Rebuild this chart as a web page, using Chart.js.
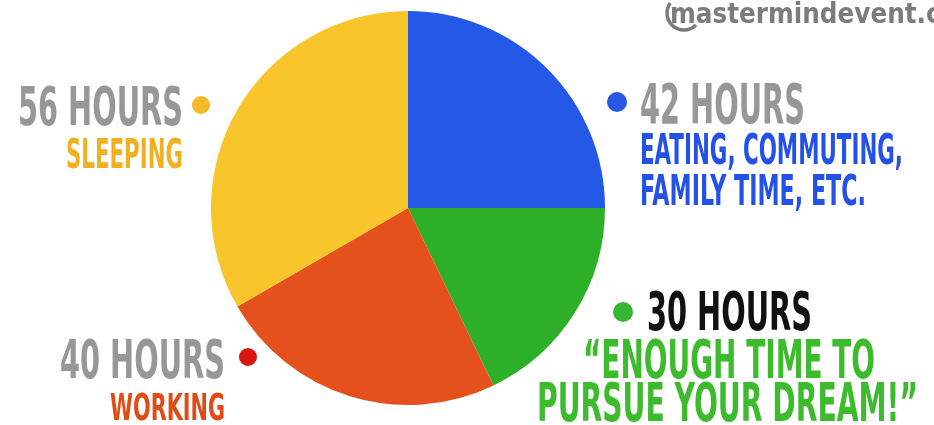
<!DOCTYPE html>
<html>
<head>
<meta charset="utf-8">
<script src="https://cdn.jsdelivr.net/npm/chart.js@4"></script>
<style>
  html, body { margin: 0; padding: 0; background: #fff; }
  #wrap { width: 934px; height: 425px; position: relative; }
</style>
</head>
<body>
<div id="wrap"><canvas id="grafico" width="934" height="425"></canvas></div>
<script>
// datos (horas por semana), en sentido horario desde arriba
var categorias = ['Eating, commuting, family time, etc.', 'Enough time to pursue your dream', 'Working', 'Sleeping'];
var horas = [42, 30, 40, 56];
var colores = ['#2458E6', '#2DB028', '#E4511C', '#F8C52A'];

// textos de las etiquetas
var titulos = ['42 HOURS', '30 HOURS', '40 HOURS', '56 HOURS'];
var subtitulos = [
  ['EATING, COMMUTING,', 'FAMILY TIME, ETC.'],
  ['\u201CENOUGH TIME TO', 'PURSUE YOUR DREAM!\u201D'],
  ['WORKING'],
  ['SLEEPING']
];

var FUENTE = "'Liberation Sans Narrow', 'DejaVu Sans Condensed', 'Liberation Sans', sans-serif";

// dibuja un texto ajustado a un ancho (izq, der, linea base, altura de mayusculas)
function textoAjustado(ctx, txt, x1, x2, base, cap, color) {
  var size = cap / 0.716;
  ctx.save();
  ctx.font = 'bold ' + size + 'px ' + FUENTE;
  ctx.fillStyle = color;
  ctx.textBaseline = 'alphabetic';
  var w = ctx.measureText(txt).width;
  ctx.translate(x1, base);
  ctx.scale((x2 - x1) / w, 1);
  ctx.fillText(txt, 0, 0);
  ctx.restore();
}

function punto(ctx, x, y, r, color) {
  ctx.beginPath();
  ctx.arc(x, y, r, 0, Math.PI * 2);
  ctx.fillStyle = color;
  ctx.fill();
}

var etiquetas = {
  id: 'etiquetas',
  afterDraw: function(chart) {
    var ctx = chart.ctx;
    // 42 horas (azul)
    punto(ctx, 617, 102, 10, '#2A56E6');
    textoAjustado(ctx, titulos[0], 640, 805, 123, 40, '#979797');
    textoAjustado(ctx, subtitulos[0][0], 640, 903, 164, 31, '#2452E8');
    textoAjustado(ctx, subtitulos[0][1], 640, 866, 205, 30, '#2452E8');
    // 30 horas (verde)
    punto(ctx, 623, 312, 10, '#35B532');
    textoAjustado(ctx, titulos[1], 647, 812, 330, 38, '#111111');
    textoAjustado(ctx, subtitulos[1][0], 583, 875, 378, 38, '#3CBB2C');
    textoAjustado(ctx, subtitulos[1][1], 537, 918, 421, 38, '#3CBB2C');
    // 40 horas (rojo)
    punto(ctx, 248, 357, 9, '#D8170F');
    textoAjustado(ctx, titulos[2], 60, 225, 378, 38, '#979797');
    textoAjustado(ctx, subtitulos[2][0], 110, 225, 420, 27, '#E04C16');
    // 56 horas (amarillo)
    punto(ctx, 201, 105, 9, '#F6B926');
    textoAjustado(ctx, titulos[3], 18, 183, 125, 38, '#979797');
    textoAjustado(ctx, subtitulos[3][0], 66, 183, 168, 29, '#F0B121');

    // logo (cortado por la derecha como en el original)
    ctx.save();
    ctx.fillStyle = '#7c7c7c';
    ctx.font = "bold 28px 'DejaVu Sans', sans-serif";
    ctx.textBaseline = 'alphabetic';
    var wl = ctx.measureText('mastermindevent.').width;
    ctx.translate(670, 23);
    ctx.scale(256 / wl, 1);
    ctx.fillText('mastermindevent.com', 0, 0);
    ctx.restore();
    ctx.save();
    ctx.strokeStyle = '#7c7c7c';
    ctx.lineWidth = 3.5;
    ctx.beginPath();
    ctx.arc(684, 13, 17, 0.25 * Math.PI, 1.2 * Math.PI);
    ctx.stroke();
    ctx.restore();
  }
};

var ctx = document.getElementById('grafico').getContext('2d');
window.myChart = new Chart(ctx, {
  type: 'pie',
  data: {
    labels: categorias,
    datasets: [{
      data: horas,
      backgroundColor: colores,
      borderWidth: 0
    }]
  },
  options: {
    responsive: false,
    animation: false,
    rotation: 0,
    layout: { padding: { left: 211, right: 329, top: 11, bottom: 20 } },
    plugins: {
      legend: { display: false },
      tooltip: { enabled: false }
    }
  },
  plugins: [etiquetas]
});
</script>
</body>
</html>
